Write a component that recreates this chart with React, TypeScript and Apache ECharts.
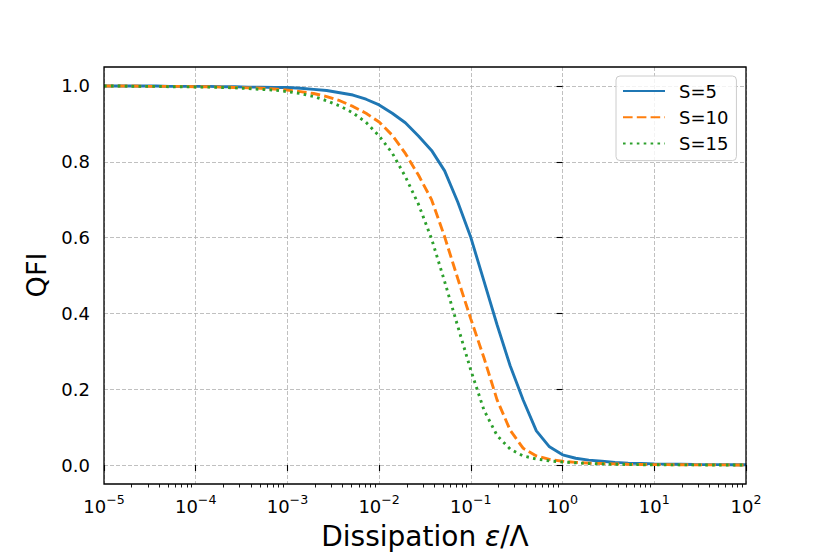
import React, { useEffect, useRef } from 'react';
import * as echarts from 'echarts';

// Sampling points of the dissipation axis (eps / Lambda), 7 per decade from 1e-5 to 1e2
const xValues = [
  1e-5, 1.3895e-5, 1.9307e-5, 2.6827e-5, 3.7276e-5, 5.1795e-5, 7.1969e-5,
  1e-4, 1.3895e-4, 1.9307e-4, 2.6827e-4, 3.7276e-4, 5.1795e-4, 7.1969e-4,
  1e-3, 1.3895e-3, 1.9307e-3, 2.6827e-3, 3.7276e-3, 5.1795e-3, 7.1969e-3,
  1e-2, 1.3895e-2, 1.9307e-2, 2.6827e-2, 3.7276e-2, 5.1795e-2, 7.1969e-2,
  1e-1, 1.3895e-1, 1.9307e-1, 2.6827e-1, 3.7276e-1, 5.1795e-1, 7.1969e-1,
  1e0, 1.3895, 1.9307, 2.6827, 3.7276, 5.1795, 7.1969,
  1e1, 13.895, 19.307, 26.827, 37.276, 51.795, 71.969,
  1e2,
];

const seriesNames = ['S=5', 'S=10', 'S=15'];

const qfiS5 = [
  1.0, 1.0, 1.0, 1.0, 1.0, 0.999, 0.999, 0.999, 0.999, 0.998,
  0.998, 0.997, 0.997, 0.996, 0.996, 0.994, 0.991, 0.988, 0.982, 0.976,
  0.965, 0.95, 0.928, 0.903, 0.868, 0.83, 0.776, 0.694, 0.6, 0.485,
  0.37, 0.262, 0.171, 0.09, 0.048, 0.027, 0.018, 0.013, 0.01, 0.007,
  0.005, 0.004, 0.003, 0.0025, 0.002, 0.0015, 0.0012, 0.001, 0.0008, 0.0006,
];

const qfiS10 = [
  1.0, 1.0, 1.0, 0.999, 0.999, 0.999, 0.999, 0.998, 0.998, 0.997,
  0.996, 0.995, 0.994, 0.992, 0.989, 0.985, 0.98, 0.972, 0.961, 0.946,
  0.928, 0.905, 0.87, 0.822, 0.765, 0.7, 0.602, 0.492, 0.385, 0.283,
  0.172, 0.092, 0.044, 0.024, 0.015, 0.01, 0.007, 0.005, 0.004, 0.003,
  0.002, 0.0015, 0.001, 0.001, 0.0008, 0.0006, 0.0005, 0.0004, 0.0003, 0.0002,
];

const qfiS15 = [
  1.0, 1.0, 0.999, 0.999, 0.999, 0.998, 0.998, 0.997, 0.997, 0.996,
  0.995, 0.993, 0.991, 0.989, 0.985, 0.98, 0.972, 0.961, 0.947, 0.929,
  0.904, 0.868, 0.823, 0.761, 0.688, 0.597, 0.484, 0.366, 0.25, 0.145,
  0.078, 0.042, 0.024, 0.016, 0.011, 0.008, 0.006, 0.004, 0.003, 0.002,
  0.0015, 0.001, 0.0008, 0.0006, 0.0005, 0.0004, 0.0003, 0.0002, 0.0002, 0.0001,
];

const yTickValues = [0, 0.2, 0.4, 0.6, 0.8, 1.0];
const minorMultipliers = [2, 3, 4, 5, 6, 7, 8, 9];
const decadeStarts = [-5, -4, -3, -2, -1, 0, 1];

const colors = ['#1f77b4', '#ff7f0e', '#2ca02c'];
const FONT = 'DejaVu Sans';

export default function App() {
  const ref = useRef<HTMLDivElement>(null);

  useEffect(() => {
    const chart = echarts.init(ref.current as HTMLDivElement, null, { renderer: 'svg' });

    const minorTicks: number[] = [];
    decadeStarts.forEach((e) => {
      minorMultipliers.forEach((m) => minorTicks.push(e + Math.log10(m)));
    });

    const supText = (n: number) => (n < 0 ? '\u2212' + Math.abs(n) : String(n));
    const grid = { left: 104, top: 67, width: 642, height: 417 };
    const gridLine = { color: '#b0b0b0', width: 0.8, type: [4, 2] };
    const tickLine = { color: '#000', width: 1.1 };

    const makeSeries = (name: string, values: number[], color: string, type: any) => ({
      name,
      type: 'line',
      xAxisIndex: 0,
      yAxisIndex: 0,
      symbol: 'none',
      data: xValues.map((x, i) => [x, values[i]]),
      lineStyle: { color, width: 2.9, type, cap: 'butt' },
      itemStyle: { color },
      z: 3,
    });

    const option: any = {
      animation: false,
      textStyle: { fontFamily: FONT },
      grid: { ...grid, containLabel: false },
      xAxis: [
        {
          type: 'log',
          logBase: 10,
          min: 1e-5,
          max: 1e2,
          splitNumber: 7,
          position: 'bottom',
          axisLine: { show: false },
          axisTick: { show: true, length: 6, lineStyle: tickLine },
          minorTick: { show: false },
          minorSplitLine: { show: false },
          axisLabel: {
            margin: 9,
            fontSize: 18,
            color: '#000',
            formatter: (v: number) => {
              const e = Math.round(Math.log10(v));
              return '{b|10}{s|' + supText(e) + '}';
            },
            rich: {
              b: { fontSize: 18, lineHeight: 26, color: '#000', fontFamily: FONT },
              s: { fontSize: 12.6, lineHeight: 12, verticalAlign: 'top', color: '#000', fontFamily: FONT },
            },
          },
          splitLine: { show: true, lineStyle: gridLine },
        },
        {
          type: 'value',
          min: -5,
          max: 2,
          position: 'bottom',
          axisLine: { show: false },
          axisLabel: { show: false },
          splitLine: { show: false },
          axisTick: { show: true, customValues: minorTicks, length: 3.5, lineStyle: { color: '#000', width: 0.9 } },
        },
      ],
      yAxis: [
        {
          type: 'value',
          min: -0.05,
          max: 1.05,
          position: 'left',
          axisLine: { show: false },
          axisTick: { show: true, customValues: yTickValues, length: 6, lineStyle: tickLine },
          axisLabel: {
            customValues: yTickValues,
            formatter: (v: number) => v.toFixed(1),
            margin: 14,
            fontSize: 18,
            color: '#000',
            fontFamily: FONT,
          },
          splitLine: { show: true, lineStyle: gridLine },
        },
      ],
      legend: {
        orient: 'vertical',
        left: 616,
        top: 76,
        padding: [6, 8, 8, 6],
        itemWidth: 42,
        itemHeight: 20,
        itemGap: 8.3,
        backgroundColor: 'rgba(255,255,255,0.8)',
        borderColor: '#cccccc',
        borderWidth: 1,
        borderRadius: 4,
        itemStyle: { opacity: 0, borderWidth: 0 },
        formatter: (name: string) => '{g| }{t|' + name + '}',
        textStyle: {
          fontSize: 18,
          fontFamily: FONT,
          color: '#000',
          rich: {
            g: { width: 9, fontSize: 18, fontFamily: FONT },
            t: { fontSize: 18, fontFamily: FONT, color: '#000' },
          },
        },
        data: seriesNames,
        z: 6,
      },
      graphic: [
        {
          type: 'rect',
          shape: { x: grid.left, y: grid.top, width: grid.width, height: grid.height },
          style: { fill: 'none', stroke: '#000', lineWidth: 1.3 },
          z: 10,
          silent: true,
        },
        {
          type: 'text',
          x: 425,
          y: 536,
          style: {
            text: '{n|Dissipation }{i|\u03b5}{n|/\u039b}',
            align: 'center',
            verticalAlign: 'middle',
            rich: {
              n: { fontSize: 28, fontFamily: FONT, fill: '#000', color: '#000' },
              i: { fontSize: 28, fontFamily: FONT, fontStyle: 'italic', fill: '#000', color: '#000' },
            },
          },
          z: 10,
        },
        {
          type: 'text',
          x: 36,
          y: 275,
          rotation: Math.PI / 2,
          style: {
            text: 'QFI',
            fontSize: 27,
            fontFamily: FONT,
            fill: '#000',
            align: 'center',
            verticalAlign: 'middle',
          },
          z: 10,
        },
      ],
      series: [
        makeSeries(seriesNames[0], qfiS5, colors[0], 'solid'),
        makeSeries(seriesNames[1], qfiS10, colors[1], [9.6, 4.2]),
        makeSeries(seriesNames[2], qfiS15, colors[2], [2.6, 4.3]),
      ],
    };

    chart.setOption(option);
    return () => {
      chart.dispose();
    };
  }, []);

  return (
    <div
      ref={ref}
      style={{ position: 'fixed', left: 0, top: 0, width: 830, height: 554, background: '#fff' }}
    />
  );
}
